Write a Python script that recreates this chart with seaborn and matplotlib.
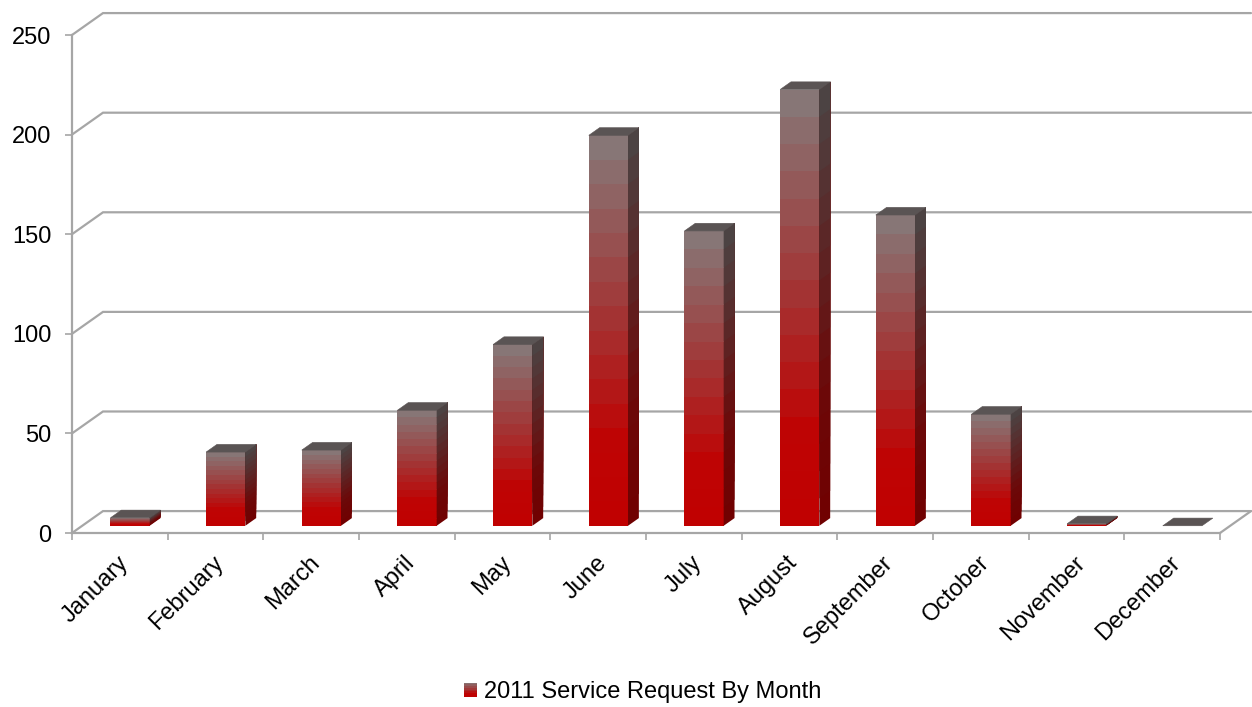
import numpy as np
import pandas as pd
import matplotlib
matplotlib.use("Agg")
import matplotlib.pyplot as plt
import matplotlib.transforms as mtransforms
from matplotlib.patches import Rectangle, Polygon
from matplotlib.colors import LinearSegmentedColormap
from matplotlib.legend_handler import HandlerBase
import seaborn as sns

# ---- data -------------------------------------------------------------
months = ["January", "February", "March", "April", "May", "June", "July",
          "August", "September", "October", "November", "December"]
requests = [4, 37, 38, 58, 91, 196, 148, 219, 156, 56, 1, 0]
series_label = "2011 Service Request By Month"
y_ticks = [0, 50, 100, 150, 200, 250]

# ---- style ------------------------------------------------------------
sns.set_theme(style="white")
plt.rcParams["font.family"] = ["Liberation Sans", "DejaVu Sans"]
plt.rcParams["text.color"] = "black"

GRID = "#A6A6A6"
GRID_LW = 1.6
FONT_SIZE = 17

front_cmap = LinearSegmentedColormap.from_list(
    "front", [(0.0, "#C00000"), (0.22, "#BE0404"), (0.55, "#A23636"), (1.0, "#857A7A")])
side_cmap = LinearSegmentedColormap.from_list(
    "side", [(0.0, "#700000"), (0.3, "#6C0808"), (1.0, "#4B4545")])
TOP_COLOR = "#5A5454"
N_BANDS = 16

# oblique depth of the plot box (in category / value units)
DEPTH_X = 0.324
DEPTH_Y = 11.0
# bars sit in the middle third of the depth
BAR_FRONT = 0.33
BAR_DEPTH = 0.35

df = pd.DataFrame({"Month": months, "Requests": requests})

W, H = 1252, 707
fig = plt.figure(figsize=(W / 100, H / 100), dpi=100)
px_per_unit = 99.6 / 50
y_top = y_ticks[-1] + DEPTH_Y + 0.6
ax = fig.add_axes([72 / W, (H - 533) / H, (W - 1 - 72) / W, y_top * px_per_unit / H])

sns.barplot(data=df, x="Month", y="Requests", ax=ax, width=0.41,
            color="#C00000", saturation=1, zorder=3)

bars = list(ax.patches)
dx_f, dy_f = BAR_FRONT * DEPTH_X, BAR_FRONT * DEPTH_Y
ddx, ddy = BAR_DEPTH * DEPTH_X, BAR_DEPTH * DEPTH_Y
bar_tf = mtransforms.Affine2D().translate(dx_f, dy_f) + ax.transData

for bar in bars:
    bar.set_visible(False)
    x0, w, h = bar.get_x(), bar.get_width(), bar.get_height()
    if h > 0:
        # each band runs from its own bottom to the bar top, so the next
        # band up covers it without leaving seams
        for k in range(N_BANDS):
            y0 = h * k / N_BANDS
            t = (k + 0.5) / N_BANDS
            fc = front_cmap(t)
            ax.add_patch(Rectangle((x0, y0), w, h - y0, facecolor=fc, edgecolor="none",
                                   transform=bar_tf, zorder=3))
            sc = side_cmap(t)
            ax.add_patch(Polygon([(x0 + w, y0), (x0 + w + ddx, y0 + ddy),
                                  (x0 + w + ddx, h + ddy), (x0 + w, h)],
                                 closed=True, facecolor=sc, edgecolor="none",
                                 transform=bar_tf, zorder=3))
    ax.add_patch(Polygon([(x0, h), (x0 + w, h), (x0 + w + ddx, h + ddy), (x0 + ddx, h + ddy)],
                         closed=True, facecolor=TOP_COLOR, edgecolor=TOP_COLOR, lw=0.4,
                         transform=bar_tf, zorder=3))

n = len(months)
x_left, x_right = -0.5, n - 0.5

# back wall gridlines with their left-wall diagonals
for v in y_ticks:
    ax.plot([x_left, x_left + DEPTH_X, x_right + DEPTH_X], [v, v + DEPTH_Y, v + DEPTH_Y],
            color=GRID, lw=GRID_LW, zorder=1, clip_on=False, solid_joinstyle="miter")
# floor: right edge
ax.plot([x_right, x_right + DEPTH_X], [0, DEPTH_Y], color=GRID, lw=GRID_LW,
        zorder=1, clip_on=False)

ax.set_xlim(x_left, x_right + DEPTH_X)
ax.set_ylim(0, y_top)

for side in ["top", "right"]:
    ax.spines[side].set_visible(False)
for side in ["left", "bottom"]:
    ax.spines[side].set_color(GRID)
    ax.spines[side].set_linewidth(GRID_LW)
ax.spines["left"].set_bounds(0, y_ticks[-1])
ax.spines["bottom"].set_bounds(x_left, x_right)

ax.set_yticks(y_ticks)
ax.set_yticklabels([str(v) for v in y_ticks], fontsize=FONT_SIZE, color="black")
ax.tick_params(axis="y", left=True, length=5, width=1.2, color=GRID, pad=10)

ax.set_xticks(range(n))
ax.set_xticks(np.arange(n + 1) - 0.5, minor=True)
ax.tick_params(axis="x", which="major", length=0, pad=19)
ax.tick_params(axis="x", which="minor", bottom=True, length=5, width=1.2, color=GRID)
ax.set_xticklabels(months, fontsize=FONT_SIZE, rotation=45, ha="right",
                   va="center", rotation_mode="anchor", color="black")
shift = mtransforms.ScaledTranslation(5 / 100, 0, fig.dpi_scale_trans)
for lab in ax.get_xticklabels():
    lab.set_transform(lab.get_transform() + shift)
ax.set_xlabel("")
ax.set_ylabel("")
ax.grid(False)


class GradientSquare(HandlerBase):
    def create_artists(self, legend, orig_handle, xdescent, ydescent, width, height,
                       fontsize, trans):
        arts = []
        nb = 8
        for k in range(nb):
            c = front_cmap((k + 0.5) / nb)
            y0 = -ydescent + height * k / nb
            r = Rectangle((-xdescent, y0), width, height - height * k / nb,
                          facecolor=c, edgecolor="none", transform=trans)
            arts.append(r)
        return arts


proxy = Rectangle((0, 0), 1, 1)
fig.legend([proxy], [series_label], handler_map={Rectangle: GradientSquare()},
           loc="center", bbox_to_anchor=(643 / W, (H - 692) / H), frameon=False,
           fontsize=FONT_SIZE, handlelength=0.55, handleheight=0.55, handletextpad=0.3,
           labelcolor="black")

fig.savefig("out.png", dpi=100)
